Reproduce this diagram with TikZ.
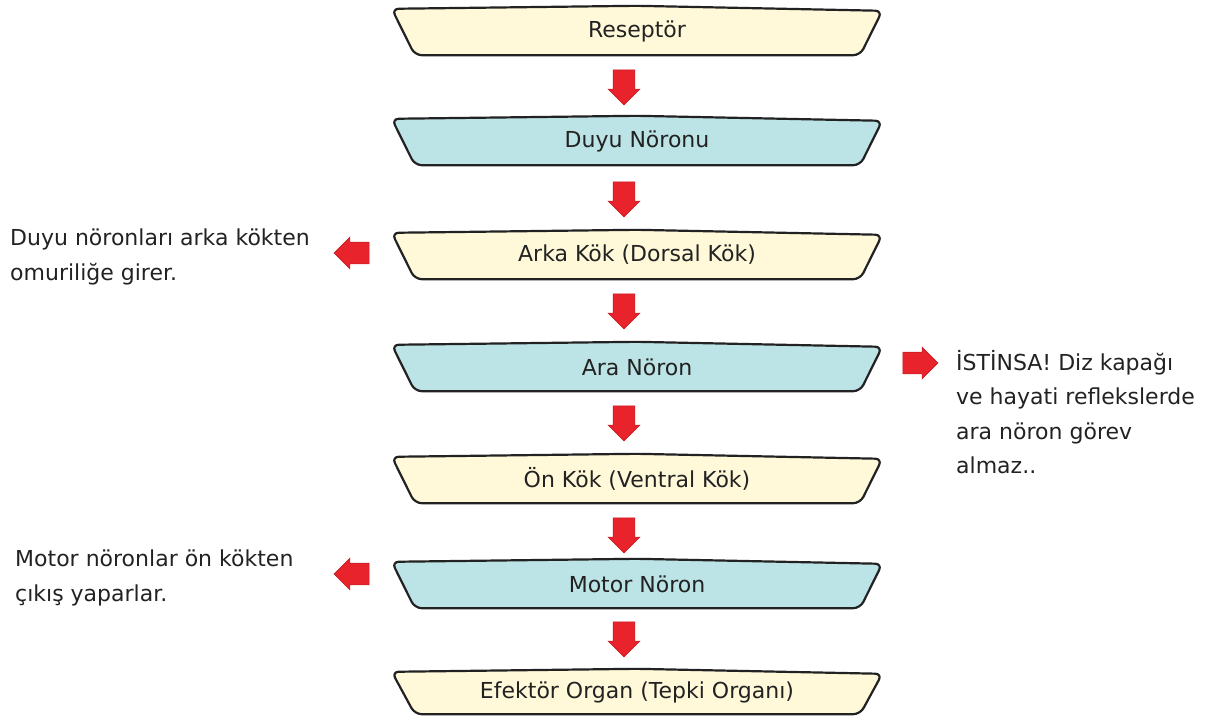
\documentclass[tikz,border=0pt]{standalone}
\usepackage{fontspec}
\setmainfont{DejaVu Sans}
\usetikzlibrary{shapes.arrows,calc,backgrounds}
\definecolor{cream}{HTML}{FFF9DA}
\definecolor{aqua}{HTML}{BCE3E5}
\definecolor{arrowred}{HTML}{E8232C}
\definecolor{ink}{HTML}{222222}
\newcommand{\trapbox}[2]{%
  \draw[trapline, fill=#2]
    ($(#1.north west)+(0,2)$) -- ($(#1.north)+(0,-1)$) -- ($(#1.north east)+(0,4)$)
    -- ($(#1.south east)+(-22,0)$) -- ($(#1.south west)+(23,0)$) -- cycle;}
\begin{document}
\begin{tikzpicture}[x=1pt,y=-1pt,
  box/.style={shape=rectangle, minimum width=490pt, minimum height=48pt,
    inner sep=0pt, text=ink, font=\fontsize{22}{26}\selectfont},
  trapline/.style={draw=ink, line width=2.2pt, rounded corners=7pt, line join=round},
  redarrow/.style={shape=single arrow, fill=arrowred, draw=arrowred!85!black,
    line width=0.6pt, minimum height=35pt, inner sep=10.5pt,
    single arrow head extend=5pt},
  downarrow/.style={redarrow, shape border rotate=270},
  leftarrow/.style={redarrow, shape border rotate=180},
  rightarrow/.style={redarrow, shape border rotate=0},
  note/.style={anchor=north west, align=left, inner sep=0pt, text=ink,
    font=\fontsize{22}{34.5}\selectfont}
]
\useasboundingbox (0,0) rectangle (1215,723);

\node[box] (b1) at (637,31)  {Reseptör};
\node[box] (b2) at (637,141) {Duyu Nöronu};
\node[box] (b3) at (637,255) {Arka Kök (Dorsal Kök)};
\node[box] (b4) at (637,367) {Ara Nöron};
\node[box] (b5) at (637,479) {Ön Kök (Ventral Kök)};
\node[box] (b6) at (637,584) {Motor Nöron};
\node[box, minimum height=44pt] (b7) at (637,692) {Efektör Organ (Tepki Organı)};

\begin{scope}[on background layer]
  \trapbox{b1}{cream}
  \trapbox{b2}{aqua}
  \trapbox{b3}{cream}
  \trapbox{b4}{aqua}
  \trapbox{b5}{cream}
  \trapbox{b6}{aqua}
  \trapbox{b7}{cream}
\end{scope}

\node[downarrow] (a1) at (624,82)  {};
\node[downarrow] (a2) at (624,194) {};
\node[downarrow] (a3) at (624,306) {};
\node[downarrow] (a4) at (624,418) {};
\node[downarrow] (a5) at (624,530) {};
\node[downarrow] (a6) at (624,634) {};

\node[leftarrow]  (l1) at (357,253) {};
\node[leftarrow]  (l2) at (357,574) {};
\node[rightarrow] (r1) at (915,363) {};

\node[note] (t1) at (10,229) {Duyu nöronları arka kökten\\omuriliğe girer.};
\node[note] (t2) at (15,550) {Motor nöronlar ön kökten\\çıkış yaparlar.};
\node[note] (t3) at (956,350) {İSTİNSA! Diz kapağı\\ve hayati reflekslerde\\ara nöron görev\\almaz..};
\end{tikzpicture}
\end{document}
